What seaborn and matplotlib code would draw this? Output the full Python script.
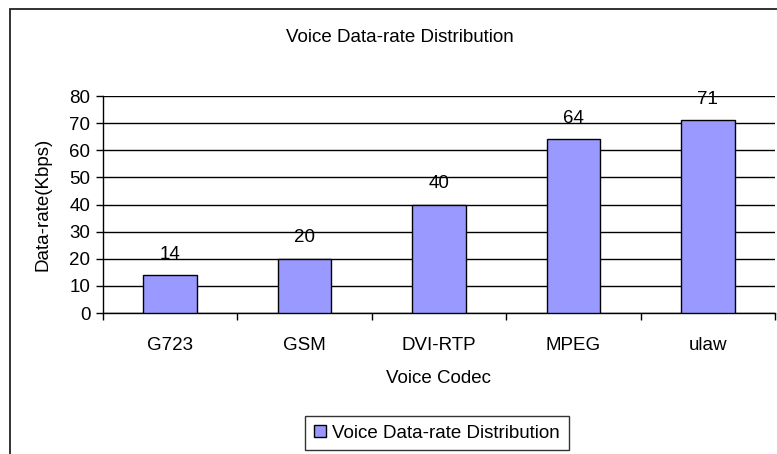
import matplotlib
matplotlib.use("Agg")
import matplotlib.pyplot as plt
import seaborn as sns
from matplotlib.patches import Rectangle

codecs = ["G723", "GSM", "DVI-RTP", "MPEG", "ulaw"]
rates = [14, 20, 40, 64, 71]
series_name = "Voice Data-rate Distribution"
y_ticks = [0, 10, 20, 30, 40, 50, 60, 70, 80]

sns.set_theme(style="white")
plt.rcParams["font.family"] = ["Liberation Sans", "DejaVu Sans"]
plt.rcParams["text.color"] = "black"
plt.rcParams["axes.labelcolor"] = "black"
plt.rcParams["xtick.color"] = "black"
plt.rcParams["ytick.color"] = "black"

FS = 13.5
W, H = 777, 454
fig = plt.figure(figsize=(W / 100, H / 100), dpi=100)
fig.patch.set_facecolor("white")

# outer chart-area frame (left and top edges visible)
fig.patches.append(Rectangle((10 / W, -0.1), 1.2, 1 - 9 / H + 0.1,
                             transform=fig.transFigure, fill=False,
                             edgecolor="#222222", linewidth=1.3))

ax = fig.add_axes([103 / W, 1 - 313 / H, (775 - 103) / W, (313 - 96) / H])
ax.set_facecolor("white")

sns.barplot(x=codecs, y=rates, color="#9999FF", edgecolor="black",
            linewidth=1.0, width=0.4, saturation=1, label=series_name,
            ax=ax, zorder=3)

ax.set_ylim(0, 80)
ax.set_xlim(-0.5, len(codecs) - 0.5)
ax.set_yticks(y_ticks)
ax.set_yticklabels([str(v) for v in y_ticks], fontsize=FS)
ax.yaxis.grid(True, color="black", linewidth=1.0, zorder=0)
ax.set_axisbelow(True)

# category boundaries get the tick marks, centers get the labels
ax.set_xticks([i - 0.5 for i in range(len(codecs) + 1)])
ax.set_xticklabels([])
ax.set_xticks(list(range(len(codecs))), minor=True)
ax.set_xticklabels(codecs, minor=True, fontsize=FS)
ax.tick_params(axis="x", which="major", direction="out", length=5,
               width=1, color="black", bottom=True)
ax.tick_params(axis="x", which="minor", length=0, pad=17)
ax.tick_params(axis="y", direction="out", length=5, width=1,
               color="black", left=True, pad=4)

for s in ["top", "right"]:
    ax.spines[s].set_visible(False)
for s in ["left", "bottom"]:
    ax.spines[s].set_color("black")
    ax.spines[s].set_linewidth(1.0)

for i, v in enumerate(rates):
    ax.annotate(str(v), (i, v), xytext=(0, 9), textcoords="offset points",
                ha="center", va="bottom", fontsize=FS, zorder=4)

ax.set_xlabel("Voice Codec", fontsize=FS, labelpad=12)
ax.set_ylabel("Data-rate(Kbps)", fontsize=FS, labelpad=13)

fig.text(400 / W, 1 - 37 / H, series_name, ha="center", va="center",
         fontsize=FS)

leg = ax.legend(loc="center", bbox_to_anchor=(437 / W, 1 - 433 / H),
                bbox_transform=fig.transFigure, fontsize=FS, frameon=True,
                fancybox=False, handlelength=0.65, handleheight=0.65,
                handletextpad=0.35, borderpad=0.45, borderaxespad=0)
leg.get_frame().set_edgecolor("black")
leg.get_frame().set_linewidth(1.0)
leg._legend_box.sep = 0
leg._legend_box.pad = 6

fig.savefig("out.png", dpi=100, facecolor="white")
